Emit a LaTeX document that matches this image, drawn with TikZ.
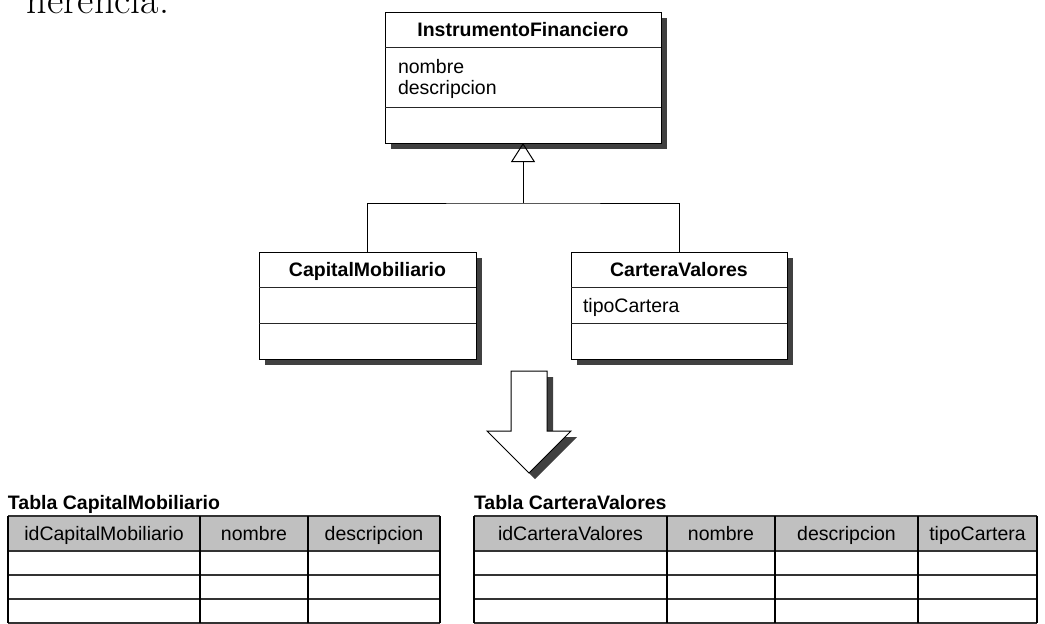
\documentclass[tikz,border=0pt]{standalone}
\usepackage{fontspec}
\setmainfont{Liberation Sans}
\newfontfamily\lmr{Latin Modern Roman}
\usetikzlibrary{arrows.meta,shadows}
\definecolor{shadowc}{HTML}{404040}
\definecolor{hdrgray}{HTML}{C0C0C0}
\begin{document}
\begin{tikzpicture}[x=1pt,y=-1pt,line width=1pt,
  every node/.style={inner sep=0pt,outer sep=0pt,font=\fontsize{19.5}{22}\selectfont},
  cls/.style={draw=black,fill=white,rectangle,anchor=north west,
    drop shadow={shadow xshift=6pt,shadow yshift=-6pt,fill=shadowc,opacity=1}},
  ctitle/.style={anchor=base,font=\fontsize{19.5}{22}\selectfont\bfseries},
  attr/.style={anchor=base west},
  sep/.style={draw=black!85,line width=1pt},
  inh/.style={-{Triangle[open,width=24pt,length=19pt]},line width=1pt},
  tline/.style={line width=1.3pt,draw=black!80},
  thead/.style={anchor=base},
  tlabel/.style={anchor=base west,font=\fontsize{19.5}{22}\selectfont\bfseries}]
\useasboundingbox (0,0) rectangle (1045,624);

% cut-off text from the page above
\begin{scope}
\clip (0,0) rectangle (1045,624);
\node[anchor=base west,font=\lmr\fontsize{40}{44}\selectfont] (prev) at (27,13) {herencia.};
\end{scope}

% InstrumentoFinanciero
\node[cls,minimum width=276pt,minimum height=131pt] (inst) at (385,12) {};
\draw[sep] ([yshift=-35pt]inst.north west) -- ([yshift=-35pt]inst.north east);
\draw[sep] ([yshift=-95pt]inst.north west) -- ([yshift=-95pt]inst.north east);
\node[ctitle] (instT) at (523,36.5) {InstrumentoFinanciero};
\node[attr] (instA1) at (398,73) {nombre};
\node[attr] (instA2) at (398,94) {descripcion};

% CapitalMobiliario
\node[cls,minimum width=217pt,minimum height=107pt] (cm) at (259,252) {};
\draw[sep] ([yshift=-35pt]cm.north west) -- ([yshift=-35pt]cm.north east);
\draw[sep] ([yshift=-71pt]cm.north west) -- ([yshift=-71pt]cm.north east);
\node[ctitle] (cmT) at (367.5,276.5) {CapitalMobiliario};

% CarteraValores
\node[cls,minimum width=216pt,minimum height=107pt] (cv) at (571,252) {};
\draw[sep] ([yshift=-35pt]cv.north west) -- ([yshift=-35pt]cv.north east);
\draw[sep] ([yshift=-71pt]cv.north west) -- ([yshift=-71pt]cv.north east);
\node[ctitle] (cvT) at (679,276.5) {CarteraValores};
\node[attr] (cvA1) at (583,312) {tipoCartera};

% inheritance
\coordinate (join) at (523,203);
\draw[inh] (join) -- (inst.south);
\draw (cm.north) |- (join) -| (cv.north);

% big down arrow
\fill[shadowc,shift={(6,6)}] (511,371) -- (547,371) -- (547,431) -- (571,431) -- (529,473) -- (487,431) -- (511,431) -- cycle;
\draw[fill=white,line width=1pt] (511,371) -- (547,371) -- (547,431) -- (571,431) -- (529,473) -- (487,431) -- (511,431) -- cycle;

% Table CapitalMobiliario
\node[tlabel] (t1L) at (8,509) {Tabla CapitalMobiliario};
\fill[hdrgray] (8,516) rectangle (440,551);
\foreach \yy in {516,551,575,599,623} \draw[tline] (8,\yy) -- (440,\yy);
\foreach \xx in {8,200,308,440} \draw[tline,draw=black] (\xx,516) -- (\xx,623);
\node[thead] (t1a) at (104,540.5) {idCapitalMobiliario};
\node[thead] (t1b) at (254,540.5) {nombre};
\node[thead] (t1c) at (374,540.5) {descripcion};

% Table CarteraValores
\node[tlabel] (t2L) at (474,509) {Tabla CarteraValores};
\fill[hdrgray] (474,516) rectangle (1037,551);
\foreach \yy in {516,551,575,599,623} \draw[tline] (474,\yy) -- (1037,\yy);
\foreach \xx in {474,667,775,918,1037} \draw[tline,draw=black] (\xx,516) -- (\xx,623);
\node[thead] (t2a) at (570.5,540.5) {idCarteraValores};
\node[thead] (t2b) at (721,540.5) {nombre};
\node[thead] (t2c) at (846.5,540.5) {descripcion};
\node[thead] (t2d) at (977.5,540.5) {tipoCartera};
\end{tikzpicture}
\end{document}
